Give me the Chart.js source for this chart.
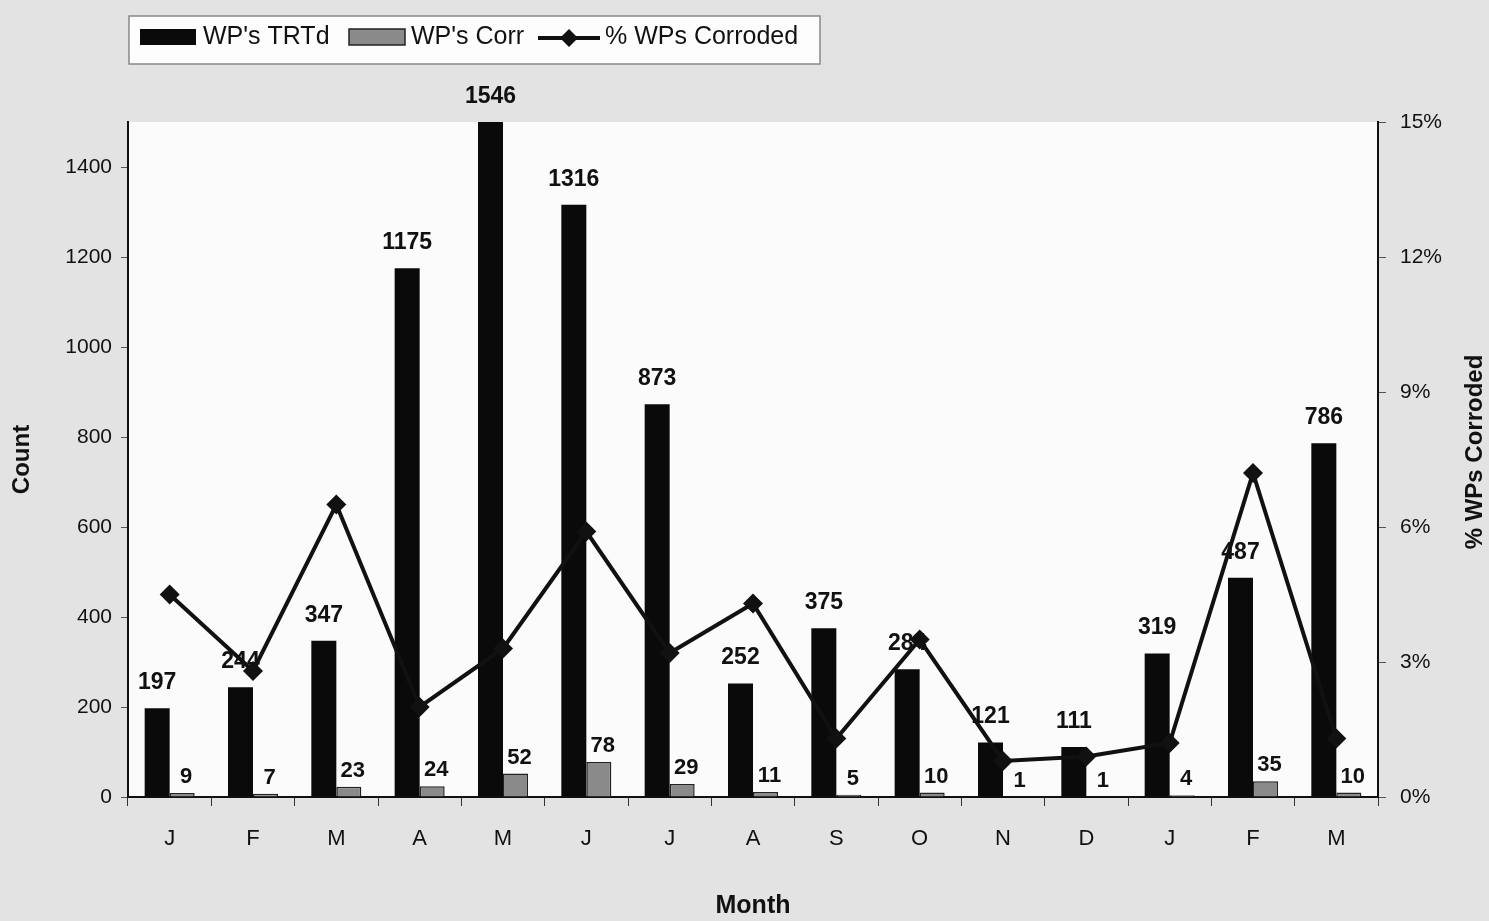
<!DOCTYPE html>
<html>
<head>
<meta charset="utf-8">
<script src="https://cdn.jsdelivr.net/npm/chart.js@4/dist/chart.umd.min.js"></script>
<style>
  html, body { margin: 0; padding: 0; background: #e3e3e3; overflow: hidden; }
  #wrap { width: 1489px; height: 921px; position: relative; }
  canvas { display: block; }
</style>
</head>
<body>
<div id="wrap"><canvas id="wpChart" width="1489" height="921"></canvas></div>
<script>
// ---- data ----
var months = ['J', 'F', 'M', 'A', 'M', 'J', 'J', 'A', 'S', 'O', 'N', 'D', 'J', 'F', 'M'];
var wpTreated = [197, 244, 347, 1175, 1546, 1316, 873, 252, 375, 284, 121, 111, 319, 487, 786];
var wpCorroded = [9, 7, 23, 24, 52, 78, 29, 11, 5, 10, 1, 1, 4, 35, 10];
var pctCorroded = [4.5, 2.8, 6.5, 2.0, 3.3, 5.9, 3.2, 4.3, 1.3, 3.5, 0.8, 0.9, 1.2, 7.2, 1.3];
var countTicks = [0, 200, 400, 600, 800, 1000, 1200, 1400];
var pctTicks = [0, 3, 6, 9, 12, 15];

var FONT = '"Liberation Sans", Arial, Helvetica, sans-serif';

// white plot area
var plotBg = {
    id: 'plotBg',
    beforeDraw: function(chart) {
        var a = chart.chartArea, ctx = chart.ctx;
        ctx.save();
        ctx.fillStyle = '#fbfbfb';
        ctx.fillRect(a.left, a.top, a.right - a.left, a.bottom - a.top);
        ctx.restore();
    }
};

// value labels above the bars
var barLabels = {
    id: 'barLabels',
    afterDatasetsDraw: function(chart) {
        var ctx = chart.ctx, top = chart.chartArea.top;
        ctx.save();
        ctx.fillStyle = '#111';
        ctx.textAlign = 'center';
        ctx.textBaseline = 'bottom';
        [0, 1].forEach(function(di) {
            var meta = chart.getDatasetMeta(di);
            var vals = chart.data.datasets[di].data;
            ctx.font = (di === 0 ? 'bold 23px ' : 'bold 22px ') + FONT;
            meta.data.forEach(function(bar, i) {
                var y = Math.max(bar.y, top);
                var gap = di === 0 ? 14 : 5;
                var dx = di === 0 ? 0 : 4;
                ctx.fillText(String(vals[i]), bar.x + dx, y - gap);
            });
        });
        ctx.restore();
    }
};

// boxed legend in the top-left corner, and the right axis title (reads bottom to top)
var boxLegend = {
    id: 'boxLegend',
    afterDraw: function(chart) {
        var ctx = chart.ctx;
        ctx.save();
        ctx.fillStyle = '#fdfdfd';
        ctx.fillRect(129, 16, 691, 48);
        ctx.strokeStyle = '#888';
        ctx.lineWidth = 1.5;
        ctx.strokeRect(129, 16, 691, 48);

        ctx.font = '25px ' + FONT;
        ctx.textBaseline = 'middle';
        var cy = 37;

        ctx.fillStyle = '#0a0a0a';
        ctx.fillRect(140, cy - 8, 56, 16);
        ctx.fillStyle = '#111';
        ctx.fillText("WP's TRTd", 203, cy);

        ctx.fillStyle = '#8a8a8a';
        ctx.fillRect(349, cy - 8, 56, 16);
        ctx.strokeStyle = '#222';
        ctx.lineWidth = 1.5;
        ctx.strokeRect(349, cy - 8, 56, 16);
        ctx.fillStyle = '#111';
        ctx.fillText("WP's Corr", 411, cy);

        ctx.strokeStyle = '#111';
        ctx.lineWidth = 4;
        ctx.beginPath();
        ctx.moveTo(538, cy + 1);
        ctx.lineTo(600, cy + 1);
        ctx.stroke();
        ctx.beginPath();
        ctx.moveTo(569, cy - 8);
        ctx.lineTo(578, cy + 1);
        ctx.lineTo(569, cy + 10);
        ctx.lineTo(560, cy + 1);
        ctx.closePath();
        ctx.fill();
        ctx.fillText('% WPs Corroded', 605, cy);

        // right axis title
        var y1 = chart.scales.y1;
        ctx.translate(y1.right - 14, 452);
        ctx.rotate(-Math.PI / 2);
        ctx.textAlign = 'center';
        ctx.font = 'bold 24px ' + FONT;
        ctx.fillText('% WPs Corroded', 0, 0);
        ctx.restore();
    }
};

var ctx = document.getElementById('wpChart').getContext('2d');
var wpChart = new Chart(ctx, {
    data: {
        labels: months,
        datasets: [
            {
                type: 'bar',
                label: "WP's TRTd",
                data: wpTreated,
                backgroundColor: '#0a0a0a',
                yAxisID: 'y',
                order: 2,
                categoryPercentage: 0.6,
                barPercentage: 1.0
            },
            {
                type: 'bar',
                label: "WP's Corr",
                data: wpCorroded,
                backgroundColor: '#8a8a8a',
                borderColor: '#222',
                borderWidth: 1.5,
                yAxisID: 'y',
                order: 2,
                categoryPercentage: 0.6,
                barPercentage: 1.0
            },
            {
                type: 'line',
                label: '% WPs Corroded',
                data: pctCorroded,
                borderColor: '#111',
                backgroundColor: '#111',
                borderWidth: 4,
                pointStyle: 'rectRot',
                pointRadius: 10,
                pointBorderWidth: 0,
                tension: 0,
                yAxisID: 'y1',
                order: 1
            }
        ]
    },
    options: {
        responsive: false,
        animation: false,
        devicePixelRatio: 1,
        layout: { padding: { top: 122, left: 0, right: 0, bottom: 0 } },
        plugins: {
            legend: { display: false },
            tooltip: { enabled: false }
        },
        scales: {
            x: {
                offset: true,
                border: { display: true, color: '#111', width: 2 },
                grid: { display: true, drawOnChartArea: false, offset: true, color: '#333', tickLength: 9 },
                ticks: { color: '#111', font: { family: FONT, size: 22 }, padding: 20, maxRotation: 0 },
                title: { display: true, text: 'Month', color: '#111', font: { family: FONT, size: 25, weight: 'bold' }, padding: { top: 0, bottom: 0 } },
                afterFit: function(scale) { scale.height = 124; }
            },
            y: {
                position: 'left',
                min: 0,
                max: 1500,
                afterBuildTicks: function(scale) {
                    scale.ticks = countTicks.map(function(v) { return { value: v }; });
                },
                border: { display: true, color: '#111', width: 2 },
                grid: { display: true, drawOnChartArea: false, color: '#555', tickLength: 7 },
                ticks: {
                    color: '#111',
                    font: { family: FONT, size: 21 },
                    padding: 9,
                    callback: function(v) { return String(v); }
                },
                title: { display: true, text: 'Count', color: '#111', font: { family: FONT, size: 24, weight: 'bold' }, padding: { top: 8, bottom: 0 } },
                afterFit: function(scale) { scale.width = 128; }
            },
            y1: {
                position: 'right',
                min: 0,
                max: 15,
                afterBuildTicks: function(scale) {
                    scale.ticks = pctTicks.map(function(v) { return { value: v }; });
                },
                border: { display: true, color: '#111', width: 2 },
                grid: { display: true, drawOnChartArea: false, color: '#555', tickLength: 8 },
                ticks: {
                    color: '#111',
                    font: { family: FONT, size: 21 },
                    padding: 14,
                    callback: function(v) { return v + '%'; }
                },
                afterFit: function(scale) { scale.width = 111; }
            }
        }
    },
    plugins: [plotBg, barLabels, boxLegend]
});
</script>
</body>
</html>
